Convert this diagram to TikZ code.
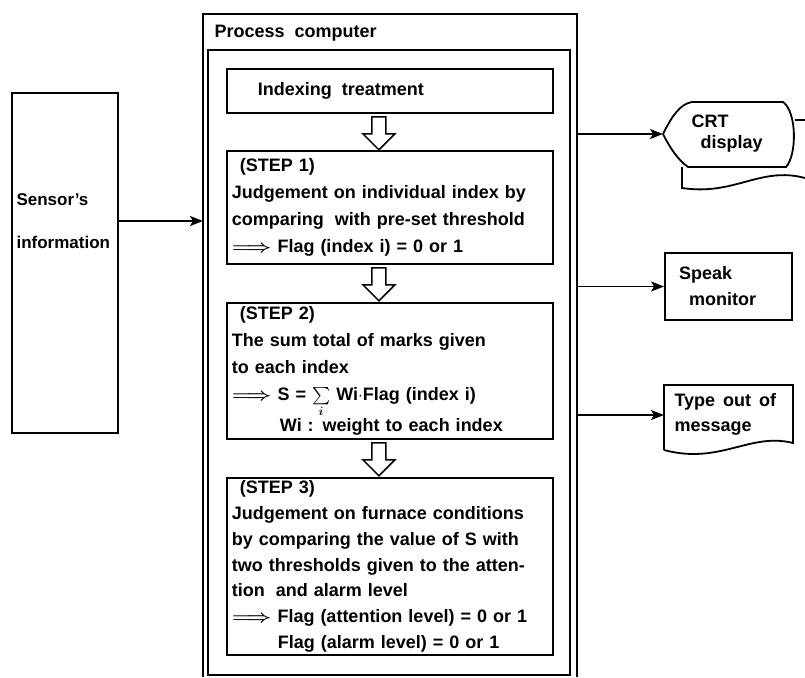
\documentclass[tikz,border=0pt]{standalone}
\usepackage{fontspec}
\setmainfont{Liberation Sans}[WordSpace=1.6]
\usepackage{amsmath}
\usetikzlibrary{arrows.meta}
\newcommand{\Dimp}{\scalebox{1.25}[1]{\boldmath$\Longrightarrow$}\ }
\newcommand{\Sumi}{{\boldmath$\sum\limits_{i}$}}

\begin{document}
\begin{tikzpicture}[x=1pt, y=-1pt,
  every node/.style={font=\fontsize{18}{27}\selectfont\bfseries},
  boxline/.style={line width=1.8pt},
  stepbox/.style={draw, boxline, anchor=north west, minimum width=326pt, text width=316pt, align=left, inner xsep=5pt, inner ysep=3pt},
  hollow/.style={line width=1.5pt, fill=white, line join=miter},
  feed/.style={line width=1.5pt, -{Stealth[length=13pt, width=10pt, inset=3pt]}}]

  \useasboundingbox (0,0) rectangle (805,677);

  \node[draw, boxline, minimum width=106pt, minimum height=340pt] (sensor) at (65,263) {};
  \node[anchor=west, align=left, font=\fontsize{17}{43}\selectfont\bfseries] (sensortxt) at (13,221) {Sensor's\\information};

  \coordinate (pcleft) at (203,14);
  \coordinate (pcright) at (577,14);
  \draw[boxline] (203,677) -- (pcleft) -- (pcright) -- (577,677);
  \draw[boxline] (208,50) rectangle (570,675);
  \node[anchor=west] (pctitle) at (211,33) {Process\hspace{10pt}computer};

  \node[draw, boxline, anchor=north west, minimum width=326pt, minimum height=44pt, text width=314pt, align=left] (index) at (226,68) {\hspace*{25pt}Indexing\hspace{10pt}treatment};

  \node[stepbox, minimum height=113pt] (step1) at (226,150)
    {\hspace*{8pt}(STEP 1)\\
     Judgement on individual index by\\
     comparing\hspace{5pt} with pre-set threshold\\
     \Dimp Flag (index i) = 0 or 1};

  \node[stepbox, minimum height=136pt] (step2) at (226,302)
    {\hspace*{8pt}(STEP 2)\\
     The sum total of marks given\\
     to each index\\
     \Dimp S = \Sumi\ Wi$\cdot$Flag (index i)\\
     \hspace*{48pt}Wi : weight to each index};

  \node[stepbox, minimum height=176pt, font=\fontsize{18}{25.7}\selectfont\bfseries] (step3) at (226,477)
    {\hspace*{8pt}(STEP 3)\\
     Judgement on furnace conditions\\
     by comparing the value of S with\\
     two thresholds given to the atten-\\
     tion\hspace{5pt} and alarm level\\
     \Dimp Flag (attention level) = 0 or 1\\
     \hspace*{46pt}Flag (alarm level) = 0 or 1};

  \foreach \a in {index,step1,step2}
    \draw[hollow] ([shift={(-18,3)}]\a.south) -- ++(0,17) -- ++(-9,0) -- ++(16,16) -- ++(16,-16) -- ++(-9,0) -- ++(0,-17) -- cycle;

  \coordinate (crttip) at (663,134);
  \draw[boxline] (crttip) .. controls (672,116) and (680,104) .. (692,102) -- (783,102)
    .. controls (797,112) and (797,155) .. (786,167) -- (688,167)
    .. controls (678,160) and (670,148) .. (crttip);
  \node[anchor=west, align=left, font=\fontsize{18}{21}\selectfont\bfseries] (crt) at (688,134) {CRT\\\hspace*{9pt}display};
  \draw[boxline] (795,120) -- (805,120);
  \draw[boxline] (682,167) -- (682,188) .. controls (735,196) and (760,166) .. (805,178);

  \node[draw, boxline, minimum width=127pt, minimum height=67pt, text width=99pt, align=left, font=\fontsize{18}{26}\selectfont\bfseries] (speak) at (728.5,286.5) {Speak\\\hspace*{10pt}monitor};

  \coordinate (typeouttip) at (664,415);
  \draw[boxline] (664,450) -- (664,385) -- (793,385) -- (793,443)
    .. controls (750,432) and (720,465) .. (664,450);
  \node[anchor=west, align=left, font=\fontsize{18}{25}\selectfont\bfseries] (typeout) at (671,414) {Type out of\\message};

  \draw[feed] (sensor.east |- sensortxt) -- (pcleft |- sensortxt);
  \draw[feed] (pcright |- crttip) -- (crttip);
  \draw[feed] (pcright |- speak.west) -- (speak.west);
  \draw[feed] (pcright |- typeouttip) -- (typeouttip);

\end{tikzpicture}
\end{document}
